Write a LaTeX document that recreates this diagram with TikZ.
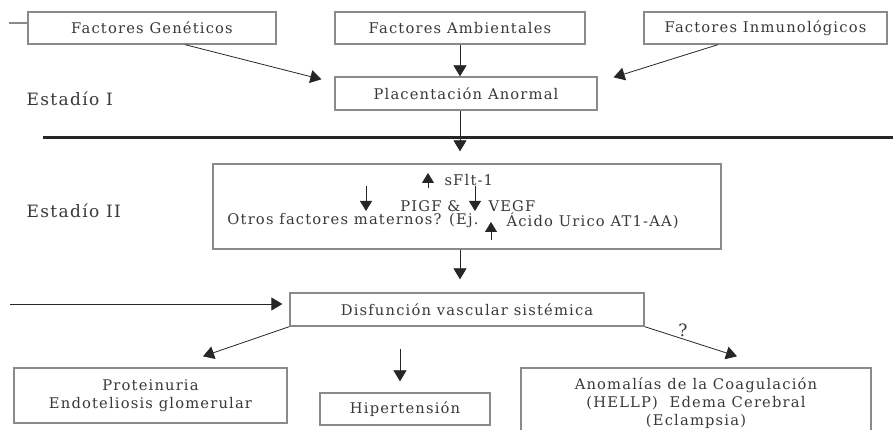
\documentclass[tikz,border=0pt]{standalone}
\usepackage{fontspec}
\setmainfont{DejaVu Serif}[LetterSpace=8]
\usetikzlibrary{arrows.meta}
\definecolor{txtgris}{HTML}{383838}
\definecolor{bordegris}{HTML}{8A8A8A}
\definecolor{lineagris}{HTML}{262626}

\begin{document}
\begin{tikzpicture}
  [x=1pt,y=-1pt,
   every node/.style={font=\fontsize{14.7}{18}\selectfont, text=txtgris},
   caja/.style={draw=bordegris, line width=1.3pt, inner sep=0pt, align=center},
   etiqueta/.style={anchor=west, font=\fontsize{17}{19}\selectfont},
   flecha/.style={draw=lineagris, line width=0.8pt, -{Triangle[length=11pt,width=13pt]}},
   flechita/.style={draw=lineagris, line width=0.8pt, -{Triangle[length=10pt,width=12pt]}}]
  \useasboundingbox (0,0) rectangle (895,430);

  % estadio I
  \node[caja, minimum width=248pt, minimum height=32pt] (gen) at (152,28) {Factores Genéticos};
  \node[caja, minimum width=250pt, minimum height=32pt] (amb) at (460,28) {Factores Ambientales};
  \node[caja, minimum width=243pt, minimum height=32pt] (inm) at (765.5,28) {Factores Inmunológicos};
  \node[caja, minimum width=262pt, minimum height=33pt] (plac) at (466,93.5) {Placentación Anormal};
  \node[etiqueta] (est1) at (23,99) {Estadío I};

  \draw[bordegris, line width=1.3pt] ([yshift=5pt]gen.west) -- ++(-18,0);
  \draw[flecha] ([xshift=33pt]gen.south) -- ([xshift=-13pt,yshift=-3pt]plac.north west);
  \draw[flecha] (amb.south) -- (amb.south |- plac.north);
  \draw[flecha] ([xshift=-47.5pt]inm.south) -- ([xshift=16pt,yshift=-1pt]plac.north east);

  \draw[lineagris, line width=2.4pt] (43,137.5) -- (893,137.5);

  % estadio II
  \node[caja, minimum width=508pt, minimum height=85pt] (est) at (467,206.5) {};
  \node[etiqueta] (est2) at (23,211) {Estadío II};
  \node[anchor=west] (sflt) at (441,180) {sFlt-1};
  \node[anchor=east] (pigf) at (464,206) {PIGF \&};
  \node[anchor=west] (vegf) at (485,206) {VEGF};
  \node[anchor=east] (otros) at (482,221) {Otros factores maternos? (Ej.};
  \node[anchor=west] (acido) at (503,221) {Ácido Urico AT1-AA)};
  \draw[flechita] (428,188) -- (428,173);
  \draw[flechita] (366,186) -- (366,211);
  \draw[flechita] (475,186) -- (475,211);
  \draw[flechita] (491,240) -- (491,222);

  \draw[flecha] (amb.south |- plac.south) -- ([yshift=12pt]amb.south |- est.north);

  % disfuncion
  \node[caja, minimum width=354pt, minimum height=33pt] (disf) at (467,309.5) {Disfunción vascular sistémica};
  \coordinate (izq) at (10,304);
  \draw[flecha] (est.south -| amb.south) -- ([yshift=13pt]disf.north -| amb.south);
  \draw[flecha] (izq) -- ([xshift=-7pt]disf.west |- izq);

  \node[caja, minimum width=273pt, minimum height=55pt] (prot) at (150.5,395.5) {Proteinuria\\Endoteliosis glomerular};
  \node[caja, minimum width=170pt, minimum height=32pt] (hip) at (405,409) {Hipertensión};
  \node[caja, minimum width=350pt, minimum height=70pt] (anom) at (696,403) {Anomalías de la Coagulación\\(HELLP)\ \ Edema Cerebral\\(Eclampsia)};

  \draw[flecha] (disf.south west) -- ([xshift=52.5pt,yshift=11pt]prot.north);
  \draw[flecha] ([xshift=-5pt,yshift=43pt]hip.north) -- ([xshift=-5pt,yshift=11pt]hip.north);
  \draw[flecha] (disf.south east) -- ([xshift=41pt,yshift=11pt]anom.north);
  \node[font=\fontsize{17}{19}\selectfont] (preg) at (683,330) {?};
\end{tikzpicture}
\end{document}
